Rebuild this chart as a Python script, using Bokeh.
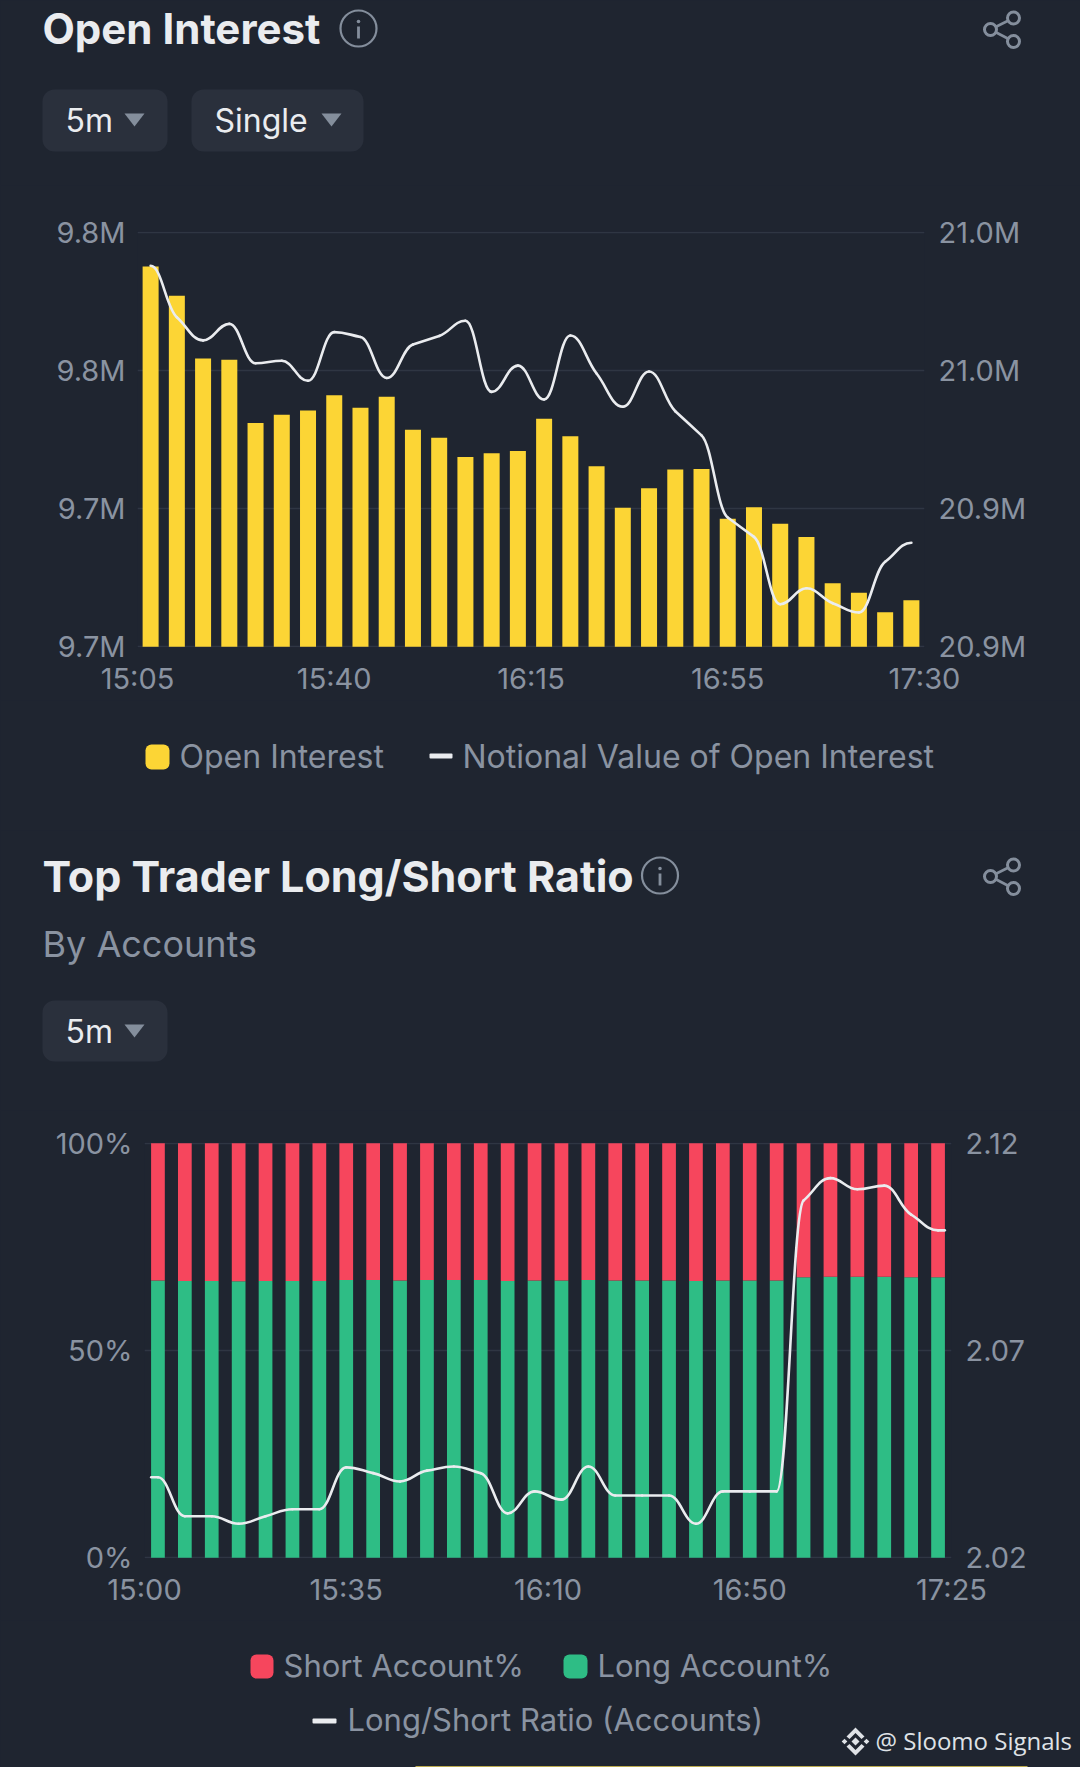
from bokeh.plotting import figure
from bokeh.embed import file_html
from bokeh.resources import INLINE
from bokeh.layouts import column
from bokeh.core.properties import value
from bokeh.models import Range1d, LinearAxis, FixedTicker, ColumnDataSource
import numpy as np

open_interest = [9.7826, 9.7762, 9.7626, 9.7623, 9.7486, 9.7504, 9.7513, 9.7546, 9.7519, 9.7543,
                 9.7471, 9.7454, 9.7412, 9.7420, 9.7425, 9.7495, 9.7457, 9.7392, 9.7302, 9.7344,
                 9.7385, 9.7386, 9.7278, 9.7303, 9.7267, 9.7238, 9.7138, 9.7117, 9.7075, 9.7101]
notional = [21.0103, 20.9954, 20.9887, 20.9935, 20.9821, 20.9828, 20.9770, 20.9911, 20.9897, 20.9778,
            20.9875, 20.9900, 20.9944, 20.9738, 20.9814, 20.9716, 20.9901, 20.9791, 20.9695, 20.9797,
            20.9682, 20.9612, 20.9374, 20.9318, 20.9123, 20.9169, 20.9126, 20.9099, 20.9246, 20.9301]
long_pct = [66.9, 66.8, 66.8, 66.7, 66.8, 66.8, 66.8, 67.0, 67.0, 66.9, 67.0, 67.0, 67.0, 66.8, 66.9,
            66.9, 67.0, 66.9, 66.9, 66.9, 66.8, 66.9, 66.9, 66.9, 67.7, 67.8, 67.8, 67.8, 67.7, 67.7]
ratio = [2.0394, 2.0300, 2.0300, 2.0282, 2.0300, 2.0317, 2.0317, 2.0418, 2.0404, 2.0384,
         2.0410, 2.0420, 2.0404, 2.0307, 2.0360, 2.0340, 2.0420, 2.0350, 2.0350, 2.0350,
         2.0282, 2.0360, 2.0360, 2.0360, 2.1062, 2.1116, 2.1089, 2.1098, 2.1028, 2.0990]

oi_ticks = [9.70, 9.73, 9.76, 9.79]
oi_labels = ["9.7M", "9.7M", "9.8M", "9.8M"]
nv_ticks = [20.90, 20.94, 20.98, 21.02]
nv_labels = ["20.9M", "20.9M", "21.0M", "21.0M"]
x_ticks = [-0.5, 7, 14.5, 22, 29.5]
x_labels_1 = ["15:05", "15:40", "16:15", "16:55", "17:30"]
x_labels_2 = ["15:00", "15:35", "16:10", "16:50", "17:25"]
pct_ticks = [0, 50, 100]
pct_labels = ["0%", "50%", "100%"]
ratio_ticks = [2.02, 2.07, 2.12]
ratio_labels = ["2.02", "2.07", "2.12"]

BG = "#1f2530"
GRID = "#2f3643"
AXIS_TXT = "#8a93a1"
LEGEND_TXT = "#8a93a1"
WHITE = "#eaecef"
BTN = "#2a303c"
ICON = "#848e9c"
FONT = "Inter"


def smooth_source(x, y):
    x = np.asarray(x, float)
    y = np.asarray(y, float)
    n = len(y)
    m = np.zeros(n)
    for i in range(1, n - 1):
        a, b = y[i] - y[i - 1], y[i + 1] - y[i]
        if a * b > 0:
            m[i] = np.sign(a) * min(abs(a), abs(b), abs(a + b) / 2)
    k = 0.42 * np.diff(x)
    return ColumnDataSource(dict(x0=x[:-1], y0=y[:-1], x1=x[1:], y1=y[1:],
                                 cx0=x[:-1] + k, cy0=y[:-1] + 0.42 * m[:-1],
                                 cx1=x[1:] - k, cy1=y[1:] - 0.42 * m[1:]))


def make_fig(height, top, bottom, left, right, y0, y1, y2_start, y2_end, ticks, labels, ticks2, labels2, xlabels):
    pad = 0.002
    d1, d2 = (y1 - y0) * pad, (y2_end - y2_start) * pad
    p = figure(width=1080, height=height, output_backend="svg", toolbar_location=None,
               x_range=Range1d(-0.5, 29.5), y_range=Range1d(y0 - d1, y1 + d1),
               min_border_top=top, min_border_bottom=bottom, min_border_left=left, min_border_right=right,
               background_fill_color=BG, border_fill_color=BG, outline_line_color=None, y_axis_location=None,
               frame_align=False)
    p.extra_y_ranges["right"] = Range1d(y2_start - d2, y2_end + d2)
    p.xgrid.visible = False
    p.ygrid.ticker = FixedTicker(ticks=ticks)
    p.ygrid.grid_line_color = GRID
    p.ygrid.grid_line_width = 1.5

    def style(ax, tks, lbls, standoff):
        ax.ticker = FixedTicker(ticks=tks)
        ax.major_label_overrides = dict(zip(tks, lbls))
        ax.axis_line_color = None
        ax.major_tick_line_color = None
        ax.minor_tick_line_color = None
        ax.major_label_text_color = AXIS_TXT
        ax.major_label_text_font = FONT
        ax.major_label_text_font_size = "29px"
        ax.major_label_standoff = standoff

    la = LinearAxis()
    style(la, ticks, labels, 6)
    p.add_layout(la, "left")
    ra = LinearAxis(y_range_name="right")
    style(ra, ticks2, labels2, 8)
    p.add_layout(ra, "right")
    style(p.xaxis[0], x_ticks, xlabels, 7)
    return p


def decor(y_top, y_bot):
    """A strip of the page without axes: its scales run in page pixels."""
    d = figure(width=1080, height=y_bot - y_top, output_backend="svg", toolbar_location=None,
               x_range=Range1d(0, 1080), y_range=Range1d(y_bot, y_top), min_border=0,
               x_axis_location=None, y_axis_location=None, background_fill_color=BG,
               border_fill_color=BG, outline_line_color=None, frame_align=False)
    d.xgrid.visible = False
    d.ygrid.visible = False
    return d


def text(p, x, y, s, size, color, bold=False, font=FONT):
    p.text(x=[x], y=[y], text=[s], text_font=value(font), text_font_size=value(f"{size}px"), text_color=color,
           text_align="left", text_baseline="middle", text_font_style="bold" if bold else "normal")


def box(p, l, r, t, b, fill, radius=0):
    p.quad(left=[l], right=[r], top=[t], bottom=[b], fill_color=fill, line_color=None, border_radius=int(radius))


def info(p, cx, cy):
    p.circle(x=[cx], y=[cy], radius=18, fill_color=None, line_color=ICON, line_width=2.2)
    box(p, cx - 1.4, cx + 1.4, cy - 2, cy + 10, ICON)
    p.circle(x=[cx], y=[cy - 7], radius=1.8, fill_color=ICON, line_color=None)


def share(p, cx, cy):
    a, b, c = (cx + 12, cy - 11.5), (cx - 11, cy), (cx + 12, cy + 12)
    p.segment(x0=[a[0], c[0]], y0=[a[1], c[1]], x1=[b[0], b[0]], y1=[b[1], b[1]], line_color=ICON, line_width=2.6)
    p.circle(x=[a[0], b[0], c[0]], y=[a[1], b[1], c[1]], radius=6, fill_color=BG, line_color=ICON, line_width=3)


def button(p, l, r, t, b, s, tx, tri):
    box(p, l, r, t, b, BTN, radius=12)
    text(p, tx, (t + b) / 2, s, 32, WHITE)
    p.patch(x=[tri, tri + 20, tri + 10], y=[t + 24, t + 24, t + 37], fill_color=ICON, line_color=None)


idx = list(range(30))

# ---------- Open Interest ----------
h1 = decor(0, 185)
text(h1, 42, 28, "Open Interest", 42, WHITE, bold=True)
info(h1, 358, 28)
share(h1, 1001, 29)
button(h1, 42, 167, 89, 151, "5m", 65, 124)
button(h1, 191, 363, 89, 151, "Single", 214, 321)

p1 = make_fig(515, 46, 53, 137, 156, oi_ticks[0], oi_ticks[-1], nv_ticks[0], nv_ticks[-1],
              oi_ticks, oi_labels, nv_ticks, nv_labels, x_labels_1)
p1.vbar(x=idx, top=open_interest, bottom=oi_ticks[0], width=0.61, fill_color="#fcd535", line_color=None)
p1.bezier(x0="x0", y0="y0", x1="x1", y1="y1", cx0="cx0", cy0="cy0", cx1="cx1", cy1="cy1",
          source=smooth_source(idx, notional), y_range_name="right", line_color=WHITE, line_width=2.6,
          line_cap="round")

l1 = decor(700, 830)
box(l1, 145, 169, 744, 769, "#fcd535", radius=6)
text(l1, 179, 756, "Open Interest", 32, LEGEND_TXT)
box(l1, 429, 452, 753, 758, WHITE, radius=1)
text(l1, 462, 756, "Notional Value of Open Interest", 32, LEGEND_TXT)

# ---------- Top Trader Long/Short Ratio ----------
h2 = decor(830, 1110)
text(h2, 42, 875, "Top Trader Long/Short Ratio", 43, WHITE, bold=True)
info(h2, 659.5, 875)
share(h2, 1001, 876)
text(h2, 42, 943, "By Accounts", 36, LEGEND_TXT)
button(h2, 42, 167, 1000, 1061, "5m", 65, 124)

p2 = make_fig(510, 32, 62, 144, 129, pct_ticks[0], pct_ticks[-1], ratio_ticks[0], ratio_ticks[-1],
              pct_ticks, pct_labels, ratio_ticks, ratio_labels, x_labels_2)
p2.vbar(x=idx, top=long_pct, bottom=0, width=0.51, fill_color="#2ebd85", line_color=None)
p2.vbar(x=idx, top=100, bottom=long_pct, width=0.51, fill_color="#f6465d", line_color=None)
ratio_x = [-0.25] + idx + [29.25]
ratio_y = [ratio[0]] + ratio + [ratio[-1]]
p2.bezier(x0="x0", y0="y0", x1="x1", y1="y1", cx0="cx0", cy0="cy0", cx1="cx1", cy1="cy1",
          source=smooth_source(ratio_x, ratio_y), y_range_name="right", line_color=WHITE, line_width=2.6,
          line_cap="round")

l2 = decor(1620, 1767)
box(l2, 250, 273, 1654, 1678, "#f6465d", radius=6)
text(l2, 283, 1665, "Short Account%", 31, LEGEND_TXT)
box(l2, 563, 587, 1654, 1678, "#2ebd85", radius=6)
text(l2, 597, 1665, "Long Account%", 31, LEGEND_TXT)
box(l2, 312, 336, 1718, 1723, WHITE, radius=1)
text(l2, 347, 1719, "Long/Short Ratio (Accounts)", 31, LEGEND_TXT)
# watermark: logo mark
lx, ly = 855, 1741
LOGO = "#dfe2e6"
for dx, r in ((-11, 2.8), (11, 2.8), (0, 4)):
    l2.patch(x=[lx + dx - r, lx + dx, lx + dx + r, lx + dx], y=[ly, ly - r, ly, ly + r], fill_color=LOGO, line_color=None)
for s in (-1, 1):
    l2.patch(x=[lx - 9, lx, lx + 9, lx + 6, lx, lx - 6],
             y=[ly + s * 5, ly + s * 14, ly + s * 5, ly + s * 2.5, ly + s * 8.5, ly + s * 2.5],
             fill_color=LOGO, line_color=None)
text(l2, 875, 1740, "@ Sloomo Signals", 24, LOGO, font="Open Sans")
box(l2, 415, 1027, 1765.7, 1767, "#f0d75a")

html = file_html(column(h1, p1, l1, h2, p2, l2, spacing=0), INLINE)
html = html.replace("<head>", f"<head><style>html,body{{margin:0;padding:0;background:{BG};overflow:hidden}}</style>", 1)
open("out.html", "w").write(html)
